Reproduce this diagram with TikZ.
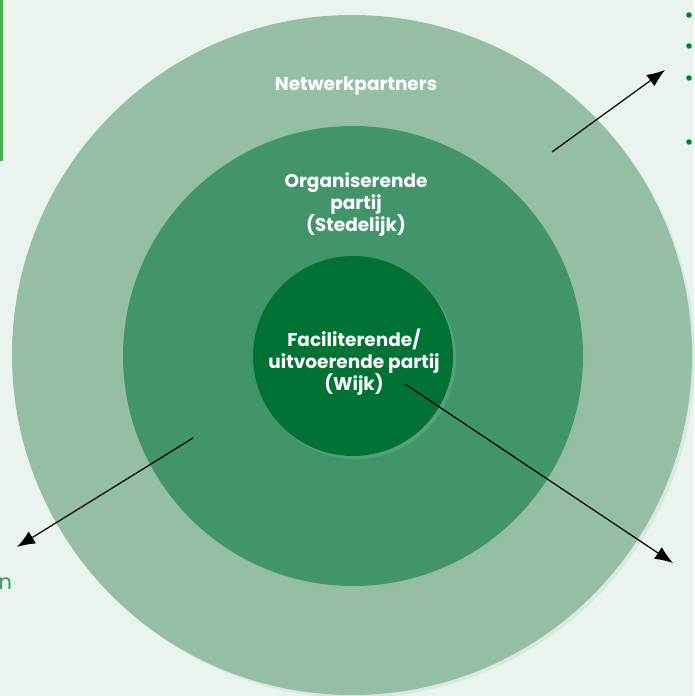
\documentclass[tikz,border=0pt]{standalone}
\usepackage{fontspec}
\setmainfont{Poppins}
\usepackage{xcolor}
\usetikzlibrary{arrows.meta,shadows}

\definecolor{bgmint}{HTML}{EAF3EE}
\definecolor{ringout}{HTML}{95BFA4}
\definecolor{ringmid}{HTML}{42956A}
\definecolor{ringin}{HTML}{007236}
\definecolor{dotgreen}{HTML}{0A7A3E}
\definecolor{bargreen}{HTML}{3DB54A}
\definecolor{txtgreen}{HTML}{3A9A5A}

\tikzset{
  ringshadow/.style={drop shadow={shadow xshift=3pt, shadow yshift=-3pt, opacity=0.35, fill=#1}},
  ringlabel/.style={text=white, font=\fontsize{18.5}{22}\selectfont\bfseries, align=center},
  pointer/.style={-{Latex[length=18pt,width=14pt]}, line width=1.2pt, black}
}

\begin{document}
\begin{tikzpicture}[x=1pt, y=-1pt]
\fill[bgmint] (0,0) rectangle (694,696);
\useasboundingbox (0,0) rectangle (694,696);
\fill[bargreen] (0,0) rectangle (2.5,161);
\fill[ringout, ringshadow=ringout!60!white] (352,355) circle (340);
\fill[ringmid, ringshadow=ringmid!60!white] (353,356) circle (230);
\fill[ringin, ringshadow=ringin!50!white] (353,356) circle (100);
\node[ringlabel] (netwerk) at (356,86) {Netwerkpartners};
\node[ringlabel] (stedelijk) at (356,205) {Organiserende\\partij\\(Stedelijk)};
\node[ringlabel] (wijk) at (354,362) {Faciliterende/\\uitvoerende partij\\(Wijk)};
\node[text=txtgreen, font=\fontsize{21}{24}\selectfont, anchor=west] (rest) at (-5,584) {n};
\foreach \y in {15,46,78,142}
  \fill[dotgreen] (689,\y) circle (2.8);
\coordinate (ringtop) at (552,152);
\coordinate (toptarget) at (665,70);
\coordinate (ringleft) at (193,438);
\coordinate (lefttarget) at (17,547);
\coordinate (wijkstart) at (405,384);
\coordinate (righttarget) at (673,563);
\draw[pointer] (ringtop) -- (toptarget);
\draw[pointer] (ringleft) -- (lefttarget);
\draw[pointer] (wijkstart) -- (righttarget);
\end{tikzpicture}
\end{document}
